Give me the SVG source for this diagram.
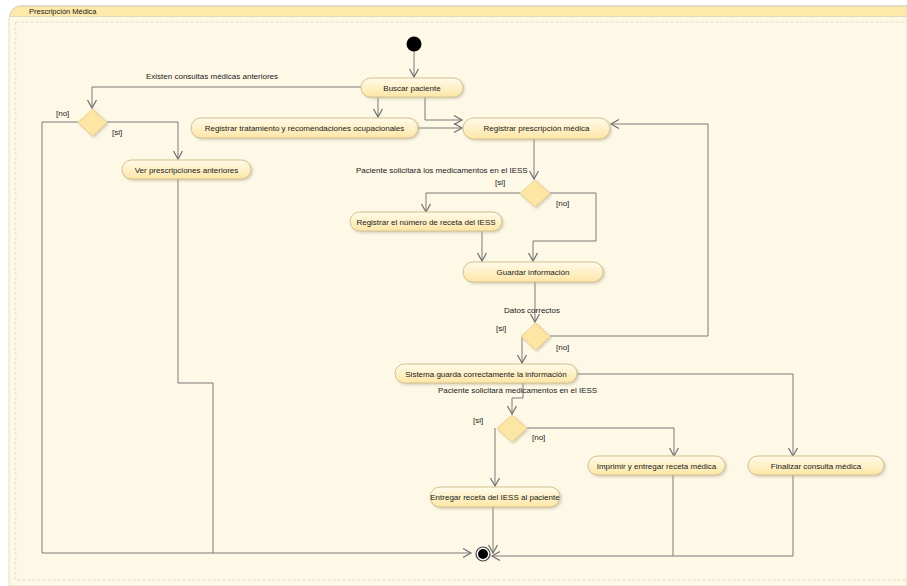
<svg xmlns="http://www.w3.org/2000/svg" width="907" height="586" viewBox="0 0 907 586">
  <style>
    text { font-family: "Liberation Sans", Arial, sans-serif; font-size: 8px; fill: #1a1a1a; }
    .lbl { text-anchor: middle; }
    .act { fill: url(#actFill); stroke: #d2c290; stroke-width: 1; filter: url(#shadow); }
    .dec { fill: #fde6a4; stroke: #e6d08e; stroke-width: 1; filter: url(#shadow); }
    .edge { fill: none; stroke: #7a7a7a; stroke-width: 1; }
    .edge-shadow { fill: none; stroke: #d8d2c0; stroke-width: 1; }
  </style>
  <defs>
    <linearGradient id="actFill" x1="0" y1="0" x2="0" y2="1">
      <stop offset="0" stop-color="#fffbea"/>
      <stop offset="1" stop-color="#fde6a6"/>
    </linearGradient>
    <filter id="shadow" x="-10%" y="-30%" width="120%" height="180%">
      <feDropShadow dx="1.5" dy="1.5" stdDeviation="1" flood-color="#b0a890" flood-opacity="0.5"/>
    </filter>
    <marker id="arrow" markerUnits="userSpaceOnUse" markerWidth="12" markerHeight="12" refX="9" refY="5" orient="auto">
      <path d="M1,0.5 L9,5 L1,9.5" fill="none" stroke="#6e6e6e" stroke-width="1.2"/>
    </marker>
  </defs>

  <!-- Frame -->
  <rect x="0" y="0" width="907" height="586" fill="#ffffff"/>
  <path d="M9,586 L9,18 Q11,6 21,5.5 L907,5.5 L907,586 Z" fill="#fef8e7" stroke="#e2dccb" stroke-width="1"/>
  <path d="M9.5,17 Q11,6.5 21,6.5 L907,6.5 L907,16.5 L9.5,16.5 Z" fill="#fde9a9" stroke="#dcd2b4" stroke-width="0.8"/>
  <text x="29" y="13.5" style="font-size:7.5px">Prescripción Médica</text>
  <path d="M15.5,22 L907,22 M15.5,22 L15.5,580 L907,580" fill="none" stroke="#ece6d2" stroke-width="1.5" stroke-dasharray="3,2"/>

  <!-- Connectors -->
  <g id="connectors">
    <polyline class="edge" points="414,51 414,77" marker-end="url(#arrow)"/>
    <polyline class="edge" points="361,87 92,87 92,108" marker-end="url(#arrow)"/>
    <polyline class="edge" points="78,122 42,122 42,553 471,553" marker-end="url(#arrow)"/>
    <polyline class="edge" points="107,122 178,122 178,159" marker-end="url(#arrow)"/>
    <polyline class="edge" points="178,179 178,383 213,383 213,553"/>
    <polyline class="edge" points="378,97 378,117" marker-end="url(#arrow)"/>
    <polyline class="edge" points="425,97 425,120 462,120" marker-end="url(#arrow)"/>
    <polyline class="edge" points="418,128 462,128" marker-end="url(#arrow)"/>
    <polyline class="edge" points="534,139 534,179" marker-end="url(#arrow)"/>
    <polyline class="edge" points="520,193 426,193 426,212" marker-end="url(#arrow)"/>
    <polyline class="edge" points="550,193 596,193 596,241 533,241 533,261" marker-end="url(#arrow)"/>
    <polyline class="edge" points="482,231 482,261" marker-end="url(#arrow)"/>
    <polyline class="edge" points="535,282 535,322" marker-end="url(#arrow)"/>
    <polyline class="edge" points="550,336 708,336 708,124 611,124" marker-end="url(#arrow)"/>
    <polyline class="edge" points="522,336 522,363" marker-end="url(#arrow)"/>
    <polyline class="edge" points="577,374 793,374 793,456" marker-end="url(#arrow)"/>
    <polyline class="edge" points="523,383 523,398 512,398 512,414" marker-end="url(#arrow)"/>
    <polyline class="edge" points="527,428 674,428 674,456" marker-end="url(#arrow)"/>
    <polyline class="edge" points="495,428 495,486" marker-end="url(#arrow)"/>
    <polyline class="edge" points="493,507 493,553" marker-end="url(#arrow)"/>
    <polyline class="edge" points="673,475 673,556 492,556" marker-end="url(#arrow)"/>
    <polyline class="edge" points="793,475 793,556 673,556"/>
  </g>

  <!-- Start -->
  <g id="start">
    <circle cx="414" cy="44" r="7.5" fill="#000000"/>
  </g>

  <!-- Actions -->
  <g id="buscar-paciente">
    <rect class="act" x="361" y="78" width="102" height="19" rx="9.5"/>
    <text class="lbl" x="412" y="90.5">Buscar paciente</text>
  </g>
  <g id="registrar-tratamiento">
    <rect class="act" x="191" y="118" width="227" height="20" rx="10"/>
    <text class="lbl" x="304.5" y="131">Registrar tratamiento y recomendaciones ocupacionales</text>
  </g>
  <g id="registrar-prescripcion">
    <rect class="act" x="463" y="118" width="147" height="21" rx="10.5"/>
    <text class="lbl" x="536.5" y="131">Registrar prescripción médica</text>
  </g>
  <g id="ver-prescripciones">
    <rect class="act" x="122" y="160" width="129" height="19" rx="9.5"/>
    <text class="lbl" x="186.5" y="172.5">Ver prescripciones anteriores</text>
  </g>
  <g id="registrar-numero-receta">
    <rect class="act" x="350" y="212" width="152" height="19" rx="9.5"/>
    <text class="lbl" x="426" y="224.5">Registrar el número de receta del IESS</text>
  </g>
  <g id="guardar-informacion">
    <rect class="act" x="463" y="262" width="140" height="20" rx="10"/>
    <text class="lbl" x="533" y="275">Guardar información</text>
  </g>
  <g id="sistema-guarda">
    <rect class="act" x="395" y="364" width="182" height="19" rx="9.5"/>
    <text class="lbl" x="486" y="376.5">Sistema guarda correctamente la información</text>
  </g>
  <g id="entregar-receta-iess">
    <rect class="act" x="430" y="487" width="130" height="20" rx="10"/>
    <text class="lbl" x="495" y="500">Entregar receta del IESS al paciente</text>
  </g>
  <g id="imprimir-receta">
    <rect class="act" x="588" y="456" width="137" height="19" rx="9.5"/>
    <text class="lbl" x="656.5" y="468.5">Imprimir y entregar receta médica</text>
  </g>
  <g id="finalizar-consulta">
    <rect class="act" x="748" y="456" width="136" height="19" rx="9.5"/>
    <text class="lbl" x="816" y="468.5">Finalizar consulta médica</text>
  </g>

  <!-- Decisions -->
  <g id="decision-consultas">
    <polygon class="dec" points="92.5,109 107,122.5 92.5,136 78,122.5"/>
    <text x="146" y="79">Existen consultas médicas anteriores</text>
    <text x="56" y="116">[no]</text>
    <text x="112" y="135">[si]</text>
  </g>
  <g id="decision-medicamentos-iess">
    <polygon class="dec" points="535,180 550,193.5 535,207 520,193.5"/>
    <text x="356" y="173">Paciente solicitará los medicamentos en el IESS</text>
    <text x="495" y="185">[si]</text>
    <text x="556" y="206">[no]</text>
  </g>
  <g id="decision-datos">
    <polygon class="dec" points="535.5,323 550,336.5 535.5,350 521,336.5"/>
    <text x="504" y="313">Datos correctos</text>
    <text x="496" y="331">[si]</text>
    <text x="556" y="350">[no]</text>
  </g>
  <g id="decision-receta">
    <polygon class="dec" points="512,415 527,428.5 512,442 497,428.5"/>
    <text x="438" y="393">Paciente solicitará medicamentos en el IESS</text>
    <text x="473" y="423">[si]</text>
    <text x="532" y="440">[no]</text>
  </g>

  <!-- End -->
  <g id="end">
    <circle cx="483" cy="554" r="7" fill="#ffffff" stroke="#444444" stroke-width="1.2"/>
    <circle cx="483" cy="554" r="5" fill="#000000"/>
  </g>
</svg>
